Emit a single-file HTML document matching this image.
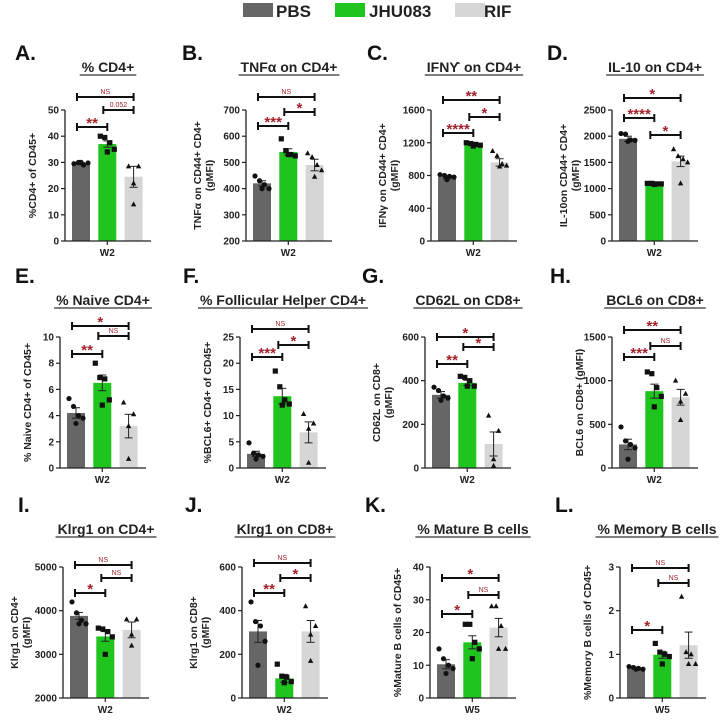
<!DOCTYPE html>
<html><head><meta charset="utf-8"><style>
html,body{margin:0;padding:0;background:#fff;}
svg{display:block;font-family:"Liberation Sans",Arial,sans-serif;}
</style></head><body>
<svg id="fig" width="720" height="720" viewBox="0 0 720 720"></svg>
<script>
const groups = ["PBS","JHU083","RIF"];
const groupColors = ["#666666","#1fc41f","#d6d6d6"];
const panelLetters = ["A.","B.","C.","D.","E.","F.","G.","H.","I.","J.","K.","L."];
const panelTitles = ["% CD4+","TNFα on CD4+","IFNϒ on CD4+","IL-10 on CD4+","% Naive CD4+","% Follicular Helper CD4+","CD62L on CD8+","BCL6 on CD8+","Klrg1 on CD4+","Klrg1 on CD8+","% Mature B cells","% Memory B cells"];
const yTitles = [["%CD4+ of CD45+"],["TNFα on CD44+ CD4+","(gMFI)"],["IFNγ on CD44+ CD4+","(gMFI)"],["IL-10on CD44+ CD4+","(gMFI)"],["% Naive CD4+ of CD45+"],["%BCL6+ CD4+ of CD45+"],["CD62L on CD8+","(gMFI)"],["BCL6 on CD8+ (gMFI)"],["Klrg1 on CD4+","(gMFI)"],["Klrg1 on CD8+","(gMFI)"],["%Mature B cells of CD45+"],["%Memory B cells of CD45+"]];
const xLabels = ["W2","W2","W2","W2","W2","W2","W2","W2","W2","W2","W5","W5"];
const yMins = [0,200,0,0,0,0,0,0,2000,0,0,0];
const yMaxs = [50,700,1600,2500,10,25,600,1500,5000,600,40,3];
const ySteps = [10,100,400,500,2,5,200,500,1000,200,10,1];
const pbsMeans = [29.5,420,780,1950,4.2,2.7,335,270,3880,305,10.3,0.68];
const jhuMeans = [37,540,1180,1100,6.5,13.7,390,880,3410,90,17,0.99];
const rifMeans = [24.5,490,960,1520,3.2,6.8,110,810,3560,305,21.5,1.21];
const pbsSems = [0.4,10,20,50,0.4,0.5,15,60,80,50,1.4,0.02];
const jhuSems = [1.2,12,15,10,0.6,1.5,12,80,110,18,2,0.08];
const rifSems = [4,22,45,100,0.9,2,55,90,180,50,2.8,0.3];
const pbsPoints = [[29.5,30,29,29.8,30],[448,430,415,400,400],[810,800,790,780,750],[2050,2040,1930,1920,1900],[5.3,4.7,4.0,3.8,3.4],[4.8,2.8,2.5,2.2,1.7],[370,355,330,320,310],[470,310,270,230,100],[4200,3950,3780,3700,3700],[440,350,330,260,150],[15,12,10,9,7.5],[0.72,0.7,0.68,0.66,0.66]];
const jhuPoints = [[40,39.5,37.5,35,34],[590,545,530,525,530],[1200,1190,1180,1170,1160],[1100,1100,1090,1090,1080],[8,6.9,6.8,5.2,4.8],[18.5,15.5,13,12.2,12],[420,415,400,375,375],[1100,1080,920,820,700],[3600,3580,3520,3400,3000],[155,100,95,75,70],[22.5,22.5,17,15,12],[1.25,1.05,1.0,0.95,0.78]];
const rifPoints = [[28.5,28.5,22,14],[535,520,490,470,445],[1100,1040,940,920,910],[1750,1620,1560,1500,1100],[5,4.1,3.2,0.7],[10.3,8.5,7.5,1],[240,170,40,10],[1000,850,760,550],[3800,3800,3450,3200],[420,330,290,170],[28,28,22,15,15],[2.32,1.05,1.0,0.78,0.78]];
const sigLabels = [["NS","0.052","**"],["NS","*","***"],["**","*","****"],["*","****","*"],["*","NS","**"],["NS","*","***"],["*","*","**"],["**","NS","***"],["NS","NS","*"],["NS","*","**"],["*","NS","*"],["NS","NS","*"]];
const sigPairs = [[[0,2],[1,2],[0,1]],[[0,2],[1,2],[0,1]],[[0,2],[1,2],[0,1]],[[0,2],[0,1],[1,2]],[[0,2],[1,2],[0,1]],[[0,2],[1,2],[0,1]],[[0,2],[1,2],[0,1]],[[0,2],[1,2],[0,1]],[[0,2],[1,2],[0,1]],[[0,2],[1,2],[0,1]],[[0,2],[1,2],[0,1]],[[0,2],[1,2],[0,1]]];

// layout (pixels)
const axisXs = [65,246,431,612,60,240,425,612,63,242,430,620];
const rowTops = [110,337,567];
const rowBottoms = [241,468,698];
const letterXs = [15,182,367,547,15,183,362,550,18,185,365,555];
const letterYs = [60,283,512];
const titleYs = [72,305,534];
const titleShift = [0,0,0,0,0,0,0,0,0,0,0,-6];
const sigYs = [[97,110,127],[97,112,126],[100,117,133],[98,118,135],[326,336,354],[329,345,357],[337,347,364],[330,346,357],[565,578,593],[563,578,593],[578,595,614],[568,583,630]];

const NS = "http://www.w3.org/2000/svg";
const svg = document.getElementById('fig');
function mk(tag, attrs, parent, text){
  const e = document.createElementNS(NS, tag);
  for (const k in attrs) e.setAttribute(k, attrs[k]);
  if (text !== undefined) e.textContent = text;
  (parent || svg).appendChild(e);
  return e;
}

// legend
const legXs = [243,335,455];
const legTextXs = [276,369,484];
groups.forEach((g,i)=>{
  const r = mk('rect',{x:legXs[i],y:3,width:30,height:14,fill:groupColors[i]});
  
  
  const t = mk('text',{x:legTextXs[i],y:17,'font-size':17,'font-weight':'bold',fill:'#222'},svg,g);
  
  
});

const offs = [-7,-2.5,2.5,7,0];
for (let p=0;p<12;p++){
  const row = Math.floor(p/4);
  const ax = axisXs[p], top = rowTops[row], bot = rowBottoms[row];
  const g = mk('g',{});
  
  
  const ys = v => bot - (v - yMins[p])/(yMaxs[p]-yMins[p])*(bot-top);
  const cx = i => ax + 16 + i*26.3;

  const L = mk('text',{x:letterXs[p],y:letterYs[row],'font-size':21,'font-weight':'bold',fill:'#111'},g,panelLetters[p]);
  
  
  const tcx = ax + 43 + titleShift[p];
  const T = mk('text',{x:tcx,y:titleYs[row],'font-size':14,'font-weight':'bold','text-anchor':'middle',fill:'#222'},g,panelTitles[p]);
  
  
  const tw = T.getComputedTextLength ? T.getComputedTextLength() : 100;
  mk('line',{x1:tcx-tw/2-2,x2:tcx+tw/2+2,y1:titleYs[row]+3,y2:titleYs[row]+3,stroke:'#333','stroke-width':1.3},g);

  const means=[pbsMeans[p],jhuMeans[p],rifMeans[p]];
  const sems=[pbsSems[p],jhuSems[p],rifSems[p]];
  const pts=[pbsPoints[p],jhuPoints[p],rifPoints[p]];
  for (let i=0;i<3;i++){
    const b = mk('rect',{x:cx(i)-9,y:ys(means[i]),width:18,height:bot-ys(means[i]),fill:groupColors[i]},g);
    
    
  }
  mk('line',{x1:ax,x2:ax,y1:top,y2:bot,stroke:'#222','stroke-width':1.3},g);
  for (let v=yMins[p]; v<=yMaxs[p]+1e-9; v+=ySteps[p]){
    const y=ys(v);
    mk('line',{x1:ax-4,x2:ax,y1:y,y2:y,stroke:'#222','stroke-width':1.2},g);
    const tl = mk('text',{x:ax-6,y:y+3.5,'font-size':10,'font-weight':'bold','text-anchor':'end',fill:'#222'},g,String(Math.round(v*100)/100));
    
    
  }
  mk('line',{x1:ax,x2:ax+86,y1:bot,y2:bot,stroke:'#222','stroke-width':1.3},g);
  mk('line',{x1:cx(1),x2:cx(1),y1:bot,y2:bot+4,stroke:'#222','stroke-width':1.2},g);
  const xl = mk('text',{x:cx(1),y:bot+15,'font-size':10,'font-weight':'bold','text-anchor':'middle',fill:'#222'},g,xLabels[p]);
  
  
  const lines = yTitles[p];
  const mid = (top+bot)/2;
  lines.forEach((ln,k)=>{
    const xx = lines.length===1 ? ax-29 : ax-45+k*12;
    const yt = mk('text',{x:xx,y:mid,'font-size':10.5,'font-weight':'bold','text-anchor':'middle',fill:'#222',transform:`rotate(-90 ${xx} ${mid})`},g,ln);
    
    
  });
  for (let i=0;i<3;i++){
    const x=cx(i), y1=ys(means[i]+sems[i]), y2=ys(means[i]-sems[i]);
    mk('line',{x1:x,x2:x,y1:y1,y2:y2,stroke:'#222','stroke-width':1},g);
    mk('line',{x1:x-4,x2:x+4,y1:y1,y2:y1,stroke:'#222','stroke-width':1},g);
    mk('line',{x1:x-4,x2:x+4,y1:y2,y2:y2,stroke:'#222','stroke-width':1},g);
    pts[i].forEach((v,k)=>{
      const px = x + (pts[i].length===4 ? [-5,5,0,0][k] : offs[k]);
      const py = ys(v);
      let m;
      if (i===0) m = mk('circle',{cx:px,cy:py,r:2.6,fill:'#111'},g);
      else if (i===1) m = mk('rect',{x:px-2.6,y:py-2.6,width:5.2,height:5.2,fill:'#111'},g);
      else m = mk('polygon',{points:`${px},${py-3} ${px-2.7},${py+2} ${px+2.7},${py+2}`,fill:'#111'},g);
      
      
    });
  }
  for (let s=0;s<3;s++){
    const [a,b] = sigPairs[p][s];
    const y = sigYs[p][s];
    const x1 = cx(a)-4, x2 = cx(b);
    const bg = mk('g',{},g);
    
    
    mk('line',{x1:x1,x2:x2,y1:y,y2:y,stroke:'#111','stroke-width':2},bg);
    mk('line',{x1:x1,x2:x1,y1:y-4,y2:y+4,stroke:'#111','stroke-width':2},bg);
    mk('line',{x1:x2,x2:x2,y1:y-4,y2:y+4,stroke:'#111','stroke-width':2},bg);
    const lab = sigLabels[p][s];
    const isStar = lab.indexOf('*')>=0;
    mk('text',{x:(x1+x2)/2,y:isStar? y+1 : y-3,'font-size':isStar?15:7,'font-weight':isStar?'bold':'normal','text-anchor':'middle',fill:'#a3232b'},bg,lab);
  }
}
</script>
</body></html>
